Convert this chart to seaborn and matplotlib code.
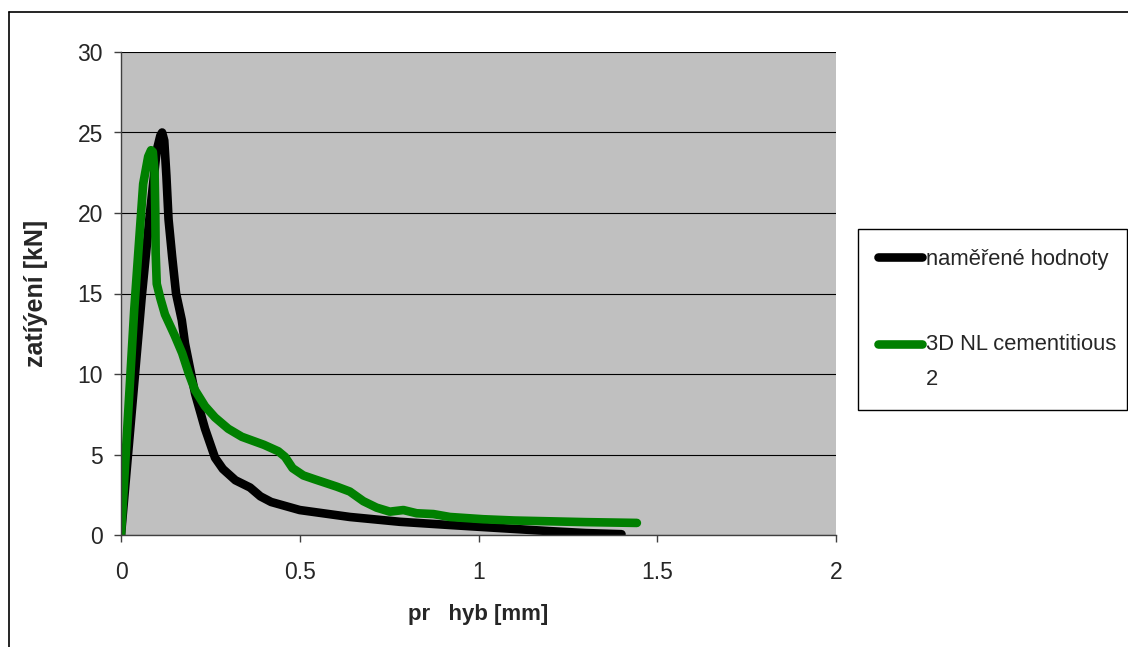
import matplotlib
matplotlib.use("Agg")
import matplotlib.pyplot as plt
import seaborn as sns
import pandas as pd
from matplotlib.lines import Line2D
from matplotlib.transforms import Affine2D

# ---- data ----
x_meas = [0, 0.058, 0.081, 0.100, 0.110, 0.115, 0.121, 0.127, 0.133, 0.143, 0.154, 0.170,
          0.179, 0.207, 0.235, 0.263, 0.285, 0.320, 0.361, 0.390, 0.420, 0.500,
          0.640, 0.780, 0.920, 1.060, 1.200, 1.250, 1.300, 1.400]
y_meas = [0, 14.8, 20.0, 23.9, 24.8, 25.0, 24.5, 22.3, 19.6, 17.3, 15.0, 13.35,
          11.9, 8.8, 6.6, 4.8, 4.1, 3.4, 2.95, 2.4, 2.05, 1.55,
          1.12, 0.82, 0.62, 0.43, 0.24, 0.18, 0.12, 0.05]

x_model = [0, 0.037, 0.062, 0.076, 0.084, 0.089, 0.094, 0.096, 0.097, 0.100, 0.110, 0.123,
           0.150, 0.171, 0.190, 0.207, 0.235, 0.263, 0.300, 0.338, 0.400, 0.440,
           0.459, 0.480, 0.510, 0.543, 0.604, 0.640, 0.678, 0.715, 0.752, 0.790,
           0.827, 0.874, 0.920, 1.013, 1.100, 1.200, 1.300, 1.443]
y_model = [0, 14.0, 21.8, 23.5, 23.9, 23.8, 22.5, 20.0, 17.5, 15.6, 14.7, 13.7,
           12.4, 11.3, 10.0, 9.0, 8.0, 7.3, 6.6, 6.1, 5.6, 5.2,
           4.85, 4.15, 3.7, 3.45, 3.0, 2.7, 2.1, 1.7, 1.45, 1.55,
           1.35, 1.3, 1.12, 0.98, 0.9, 0.85, 0.8, 0.75]

series_names = ["naměřené hodnoty", "3D NL cementitious\n2"]
series_colors = ["#000000", "#008000"]
x_ticks = [0, 0.5, 1, 1.5, 2]
x_tick_labels = ["0", "0.5", "1", "1.5", "2"]
y_ticks = [0, 5, 10, 15, 20, 25, 30]
x_label = "pr   hyb [mm]"
y_label = "zatíýení [kN]"

df = pd.concat([
    pd.DataFrame({"x": x_meas, "y": y_meas, "series": series_names[0]}),
    pd.DataFrame({"x": x_model, "y": y_model, "series": series_names[1]}),
], ignore_index=True)

sns.set_theme(style="white")
plt.rcParams["font.family"] = ["Liberation Sans", "DejaVu Sans"]

W, H = 1128, 647
LW = 6.2
fig = plt.figure(figsize=(W / 100, H / 100), dpi=100)
ax = fig.add_axes([121 / W, 1 - 535 / H, (836 - 121) / W, (535 - 52) / H])
ax.set_facecolor("#C0C0C0")

sns.lineplot(data=df, x="x", y="y", hue="series", palette=dict(zip(series_names, series_colors)),
             sort=False, estimator=None, ax=ax, linewidth=LW, legend=False)
for ln in ax.get_lines():
    ln.set_solid_capstyle("round")
    ln.set_solid_joinstyle("round")

ax.set_xlim(0, 2)
ax.set_ylim(0, 30)
ax.set_xticks(x_ticks)
ax.set_xticklabels(x_tick_labels)
ax.set_yticks(y_ticks)
ax.yaxis.grid(True, color="#000000", linewidth=0.8)
ax.xaxis.grid(False)
ax.set_axisbelow(True)
for s in ["top", "right"]:
    ax.spines[s].set_visible(False)
for s in ["left", "bottom"]:
    ax.spines[s].set_color("#404040")
    ax.spines[s].set_linewidth(1.0)
ax.tick_params(axis="x", direction="out", length=5, width=1, color="#404040",
               labelsize=16.5, pad=14, bottom=True)
ax.tick_params(axis="y", direction="out", length=5, width=1, color="#404040",
               labelsize=16.5, pad=8, left=True)

ax.set_xlabel(x_label, fontsize=16, fontweight="bold", labelpad=14)
ax.set_ylabel(y_label, fontsize=18, fontweight="bold", labelpad=21)

handles = [Line2D([0], [0], color=c, linewidth=LW, solid_capstyle="round") for c in series_colors]
leg = fig.legend(handles, series_names, loc="upper left",
                 bbox_to_anchor=(858 / W, 1 - 402 / H, (1127 - 858) / W, (402 - 229) / H),
                 mode="expand", borderaxespad=0, fontsize=15.8, frameon=True, fancybox=False,
                 edgecolor="#000000", framealpha=1, handlelength=2.0, handletextpad=0.2,
                 labelspacing=2.95, borderpad=0.9)
leg.get_frame().set_linewidth(1.0)
for t in leg.get_texts():
    t.set_linespacing(1.85)
# align the multi-line entry's handle with its first text line
gh = leg.legend_handles[1]
gh.set_transform(gh.get_transform() + Affine2D().translate(0, 18.5))

# outer chart border (cropped at right and bottom)
fig.add_artist(Line2D([9 / W, 1], [1 - 12 / H, 1 - 12 / H], transform=fig.transFigure,
                      color="black", linewidth=1.2))
fig.add_artist(Line2D([9 / W, 9 / W], [0, 1 - 12 / H], transform=fig.transFigure,
                      color="black", linewidth=1.2))

fig.savefig("out.png", dpi=100)
